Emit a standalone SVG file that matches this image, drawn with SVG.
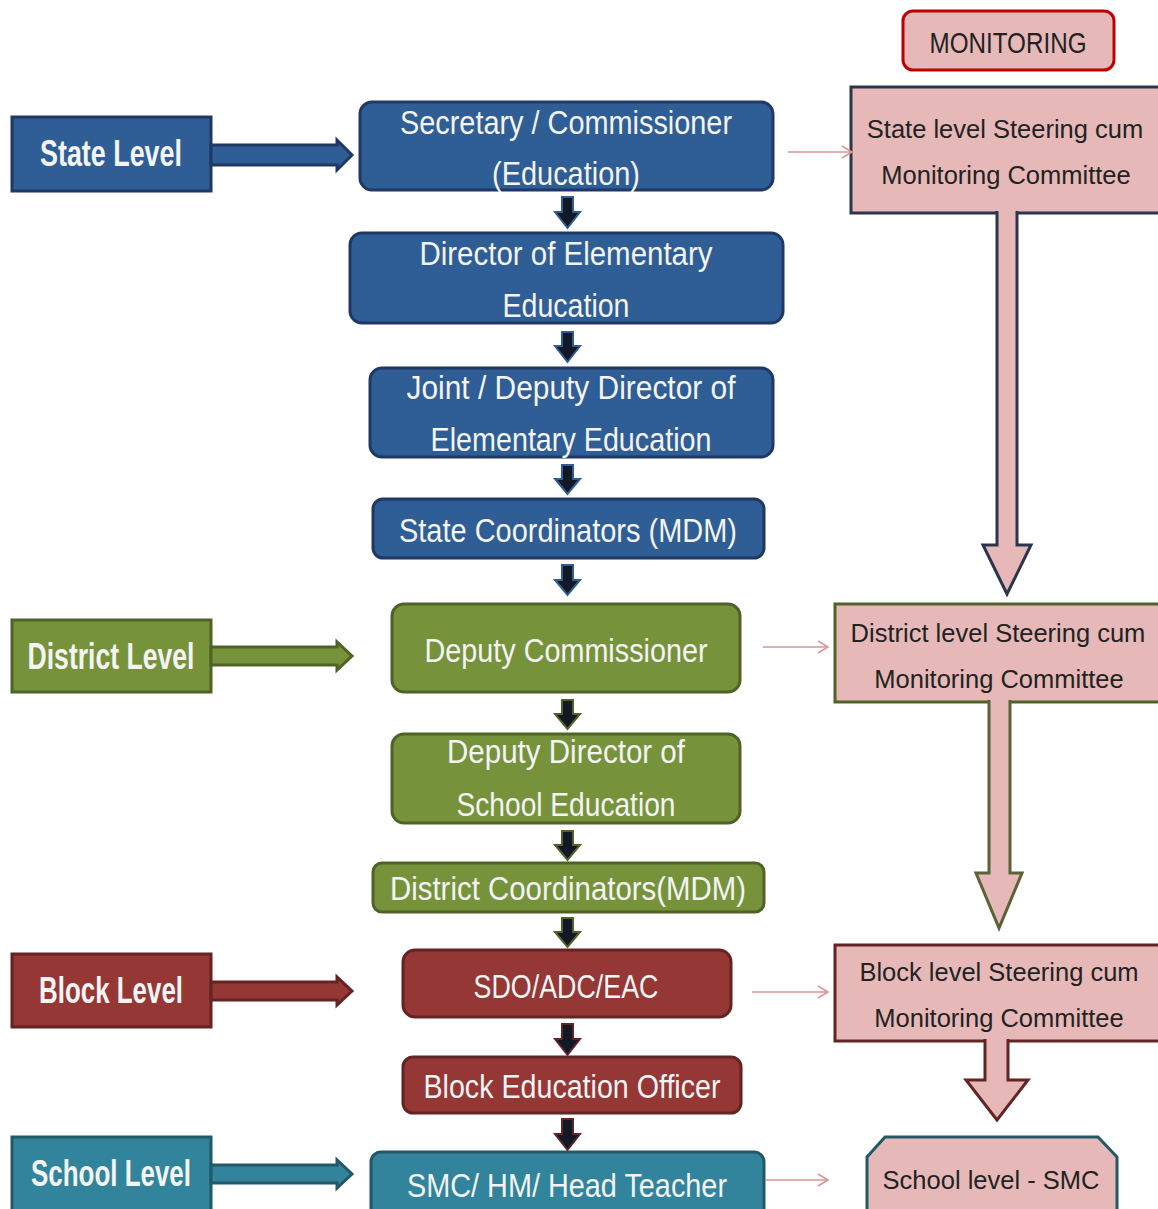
<svg xmlns="http://www.w3.org/2000/svg" width="1158" height="1209" viewBox="0 0 1158 1209">
<defs>
<style>
.t{font-family:"Liberation Sans",Arial,sans-serif;font-size:33px;fill:#F4F4F4;text-anchor:middle}
.lv{font-family:"Liberation Sans",Arial,sans-serif;font-size:37px;font-weight:bold;fill:#F4F4F4;text-anchor:middle}
.pk{font-family:"Liberation Sans",Arial,sans-serif;font-size:29px;fill:#222;text-anchor:middle}
.pk2{font-family:"Liberation Sans",Arial,sans-serif;font-size:25.5px;fill:#222;text-anchor:middle}
.blue{fill:#2F5D96;stroke:#1F3864;stroke-width:3}
.green{fill:#76933C;stroke:#4F6228;stroke-width:3}
.red{fill:#953735;stroke:#632523;stroke-width:3}
.teal{fill:#31849B;stroke:#215968;stroke-width:3}
.pink{fill:#E6B9B8;stroke-width:3}
.thin{stroke:#D99594;stroke-width:1.5;fill:none}
.sa{fill:#121826;stroke-width:2}
</style>
<marker id="op" markerWidth="14" markerHeight="14" refX="12" refY="7" orient="auto" markerUnits="userSpaceOnUse">
<path d="M2,1 L12,7 L2,13" fill="none" stroke="#D99594" stroke-width="1.5"/>
</marker>
</defs>
<rect width="1158" height="1209" fill="#FFFFFF"/>

<!-- Level boxes -->
<g id="state-level">
<rect class="blue" x="12" y="117" width="199" height="74"/>
<path class="blue" d="M211,145 L337,145 L337,140 L352,155 L337,170 L337,165 L211,165 Z"/>
<text class="lv" x="111" y="166" textLength="142" lengthAdjust="spacingAndGlyphs">State Level</text>
</g>
<g id="district-level">
<rect class="green" x="12" y="620" width="199" height="72"/>
<path class="green" d="M211,647 L337,647 L337,642 L352,656 L337,670 L337,665 L211,665 Z"/>
<text class="lv" x="111" y="669" textLength="167" lengthAdjust="spacingAndGlyphs">District Level</text>
</g>
<g id="block-level">
<rect class="red" x="12" y="954" width="199" height="73"/>
<path class="red" d="M211,982 L337,982 L337,977 L352,991 L337,1005 L337,1000 L211,1000 Z"/>
<text class="lv" x="111" y="1003" textLength="144" lengthAdjust="spacingAndGlyphs">Block Level</text>
</g>
<g id="school-level">
<rect class="teal" x="12" y="1137" width="199" height="80"/>
<path class="teal" d="M211,1165 L337,1165 L337,1160 L352,1174 L337,1188 L337,1183 L211,1183 Z"/>
<text class="lv" x="111" y="1186" textLength="160" lengthAdjust="spacingAndGlyphs">School Level</text>
</g>

<!-- Center hierarchy -->
<g id="secretary">
<rect class="blue" x="360" y="102" width="413" height="88" rx="12"/>
<text class="t" x="566" y="134" textLength="332" lengthAdjust="spacingAndGlyphs">Secretary / Commissioner</text>
<text class="t" x="566" y="185" textLength="148" lengthAdjust="spacingAndGlyphs">(Education)</text>
</g>
<g id="director">
<rect class="blue" x="350" y="233" width="433" height="90" rx="12"/>
<text class="t" x="566" y="265" textLength="293" lengthAdjust="spacingAndGlyphs">Director of Elementary</text>
<text class="t" x="566" y="317" textLength="127" lengthAdjust="spacingAndGlyphs">Education</text>
</g>
<g id="joint-director">
<rect class="blue" x="370" y="368" width="403" height="89" rx="12"/>
<text class="t" x="571" y="399" textLength="329" lengthAdjust="spacingAndGlyphs">Joint / Deputy Director of</text>
<text class="t" x="571" y="451" textLength="281" lengthAdjust="spacingAndGlyphs">Elementary Education</text>
</g>
<g id="state-coordinators">
<rect class="blue" x="373" y="499" width="391" height="59" rx="10"/>
<text class="t" x="568" y="542" textLength="338" lengthAdjust="spacingAndGlyphs">State Coordinators (MDM)</text>
</g>
<g id="deputy-commissioner">
<rect class="green" x="392" y="604" width="348" height="88" rx="12"/>
<text class="t" x="566" y="662" textLength="283" lengthAdjust="spacingAndGlyphs">Deputy Commissioner</text>
</g>
<g id="deputy-director-school">
<rect class="green" x="392" y="734" width="348" height="89" rx="12"/>
<text class="t" x="566" y="763" textLength="238" lengthAdjust="spacingAndGlyphs">Deputy Director of</text>
<text class="t" x="566" y="816" textLength="219" lengthAdjust="spacingAndGlyphs">School Education</text>
</g>
<g id="district-coordinators">
<rect class="green" x="373" y="863" width="391" height="49" rx="9"/>
<text class="t" x="568" y="900" textLength="356" lengthAdjust="spacingAndGlyphs">District Coordinators(MDM)</text>
</g>
<g id="sdo">
<rect class="red" x="403" y="950" width="328" height="67" rx="12"/>
<text class="t" x="566" y="998" textLength="185" lengthAdjust="spacingAndGlyphs">SDO/ADC/EAC</text>
</g>
<g id="beo">
<rect class="red" x="403" y="1057" width="338" height="56" rx="10"/>
<text class="t" x="572" y="1098" textLength="297" lengthAdjust="spacingAndGlyphs">Block Education Officer</text>
</g>
<g id="smc-hm">
<rect class="teal" x="371" y="1152" width="393" height="70" rx="10"/>
<text class="t" x="567" y="1197" textLength="320" lengthAdjust="spacingAndGlyphs">SMC/ HM/ Head Teacher</text>
</g>

<!-- Monitoring column -->
<g id="monitoring">
<rect class="pink" x="903" y="11" width="211" height="59" rx="10" stroke="#C00000"/>
<text class="pk" x="1008" y="53" textLength="157" lengthAdjust="spacingAndGlyphs">MONITORING</text>
</g>
<g id="state-committee">
<rect class="pink" x="851" y="87" width="320" height="126" stroke="#2B3550"/>
<text class="pk2" x="1005" y="138">State level Steering cum</text>
<text class="pk2" x="1006" y="184">Monitoring Committee</text>
</g>
<g id="district-committee">
<rect class="pink" x="835" y="604" width="336" height="98" stroke="#4F6228"/>
<text class="pk2" x="998" y="642">District level Steering cum</text>
<text class="pk2" x="999" y="688">Monitoring Committee</text>
</g>
<g id="block-committee">
<rect class="pink" x="835" y="945" width="336" height="96" stroke="#632523"/>
<text class="pk2" x="999" y="981">Block level Steering cum</text>
<text class="pk2" x="999" y="1027">Monitoring Committee</text>
</g>
<g id="school-smc">
<path class="pink" d="M867,1157 L885,1137 L1098,1137 L1117,1157 L1117,1220 L867,1220 Z" stroke="#215968"/>
<text class="pk2" x="991" y="1189">School level - SMC</text>
</g>

<!-- Connectors -->
<g id="connectors">
<path class="sa" stroke="#2F5D96" d="M562,197 L573,197 L573,212 L580,212 L567.5,228 L555,212 L562,212 Z"/>
<path class="sa" stroke="#2F5D96" d="M562,332 L573,332 L573,346 L580,346 L567.5,362 L555,346 L562,346 Z"/>
<path class="sa" stroke="#2F5D96" d="M562,465 L573,465 L573,479 L580,479 L567.5,494 L555,479 L562,479 Z"/>
<path class="sa" stroke="#2F5D96" d="M562,565 L573,565 L573,580 L580,580 L567.5,595 L555,580 L562,580 Z"/>
<path class="sa" stroke="#4F6228" d="M562,700 L573,700 L573,714 L580,714 L567.5,729 L555,714 L562,714 Z"/>
<path class="sa" stroke="#4F6228" d="M562,831 L573,831 L573,845 L580,845 L567.5,860 L555,845 L562,845 Z"/>
<path class="sa" stroke="#4F6228" d="M562,918 L573,918 L573,932 L580,932 L567.5,947 L555,932 L562,932 Z"/>
<path class="sa" stroke="#632523" d="M562,1024 L573,1024 L573,1039 L580,1039 L567.5,1055 L555,1039 L562,1039 Z"/>
<path class="sa" stroke="#632523" d="M562,1119 L573,1119 L573,1134 L580,1134 L567.5,1150 L555,1134 L562,1134 Z"/>
<line class="thin" x1="788" y1="152" x2="852" y2="152" marker-end="url(#op)"/>
<line class="thin" x1="763" y1="647" x2="828" y2="647" marker-end="url(#op)"/>
<line class="thin" x1="752" y1="992" x2="828" y2="992" marker-end="url(#op)"/>
<line class="thin" x1="765" y1="1180" x2="828" y2="1180" marker-end="url(#op)"/>
<path d="M997,211 L997,545 L983,545 L1007,594 L1031,545 L1017,545 L1017,211" fill="#E6B9B8" stroke="#2B3550" stroke-width="3"/>
<path d="M989,700 L989,873 L976,873 L999,928 L1022,873 L1010,873 L1010,700" fill="#E6B9B8" stroke="#5A6236" stroke-width="3"/>
<path d="M985,1039 L985,1080 L966,1080 L997,1120 L1028,1080 L1008,1080 L1008,1039" fill="#E6B9B8" stroke="#632523" stroke-width="3"/>
</g>
</svg>
